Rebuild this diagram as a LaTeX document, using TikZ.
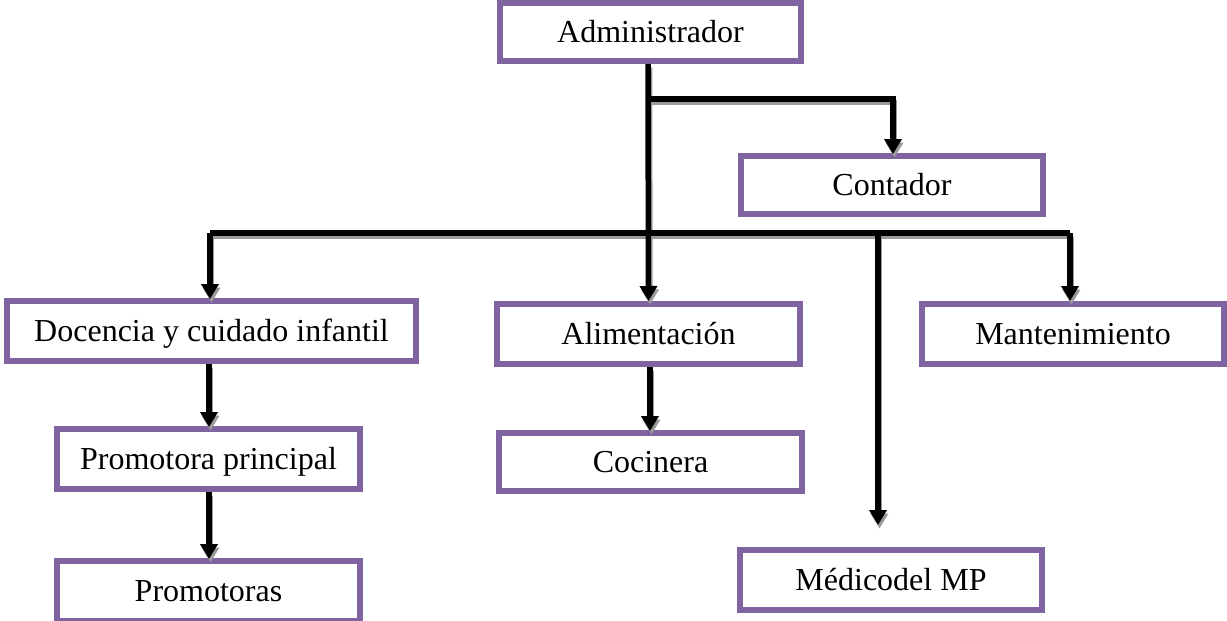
\documentclass[tikz,border=0pt]{standalone}
\usepackage{fontspec}
\setmainfont{Liberation Serif}
\usetikzlibrary{arrows.meta}
\definecolor{boxpurple}{HTML}{8064A2}
\definecolor{shadowgray}{HTML}{9A9A9A}
\newcommand{\orgconnectors}[1]{%
  \draw[arrowlink,#1] (top) -- (ali.north |- 0,301);
  \draw[arrowlink,#1] (jc) -| (893,154);
  \draw[link,#1] (busL) -- (busR);
  \draw[arrowlink,#1] (busL) -- (busL |- 0,299);
  \draw[arrowlink,#1] (busR) -- (busR |- 0,301);
  \draw[arrowlink,#1] (busM) -- (medend);
  \draw[arrowlink,#1] (209,364) -- (209,427);
  \draw[arrowlink,#1] (209,492) -- (209,559);
  \draw[arrowlink,#1] (650,367) -- (650,431);
}
\begin{document}
\begin{tikzpicture}[x=1pt,y=-1pt,
  orgbox/.style={draw=boxpurple, line width=6pt, fill=white, rectangle,
    inner sep=0pt, text height=21pt, text depth=0pt,
    font=\fontsize{32}{36}\selectfont},
  link/.style={line width=5.5pt, draw=black},
  arrowlink/.style={link, -{Triangle[width=17pt,length=15pt]}},
  shade/.style={draw=shadowgray}
]
\useasboundingbox (0,0) rectangle (1227,621);

% nodes
\node[orgbox, minimum width=301pt, minimum height=58pt] (adm)  at (650.5,32)  {Administrador};
\node[orgbox, minimum width=302pt, minimum height=58pt] (cont) at (892,185)   {Contador};
\node[orgbox, minimum width=409pt, minimum height=60pt] (doc)  at (211.5,331) {Docencia y cuidado infantil};
\node[orgbox, minimum width=303pt, minimum height=60pt] (ali)  at (648.5,334) {Alimentación};
\node[orgbox, minimum width=302pt, minimum height=60pt] (mant) at (1073,334)  {Mantenimiento};
\node[orgbox, minimum width=303pt, minimum height=60pt] (pp)   at (208.5,459) {Promotora principal};
\node[orgbox, minimum width=303pt, minimum height=58pt] (coc)  at (650.5,462) {Cocinera};
\node[orgbox, minimum width=303pt, minimum height=60pt] (prom) at (208.5,591) {Promotoras};
\node[orgbox, minimum width=302pt, minimum height=60pt] (med)  at (891,580)   {Médicodel MP};

% junction coordinates
\coordinate (top) at (648,64);
\coordinate (jc) at (648,99);
\coordinate (busL) at (210,233);
\coordinate (busM) at (878,233);
\coordinate (busR) at (1070,233);
\coordinate (medend) at (878,525);

% connector shadows
\begin{scope}[transform canvas={xshift=1.5pt,yshift=-3.5pt}]
  \orgconnectors{shade}
\end{scope}
% connectors
\orgconnectors{}
\end{tikzpicture}
\end{document}
